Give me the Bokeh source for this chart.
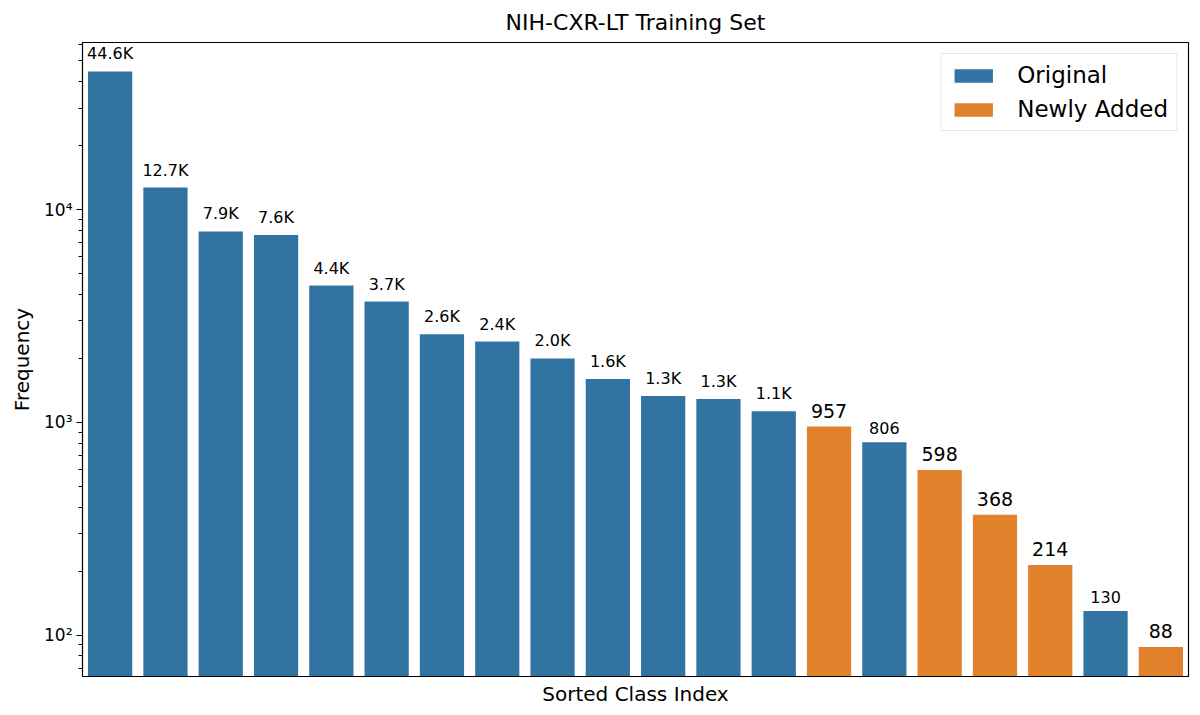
from bokeh.plotting import figure
from bokeh.models import ColumnDataSource, LogTicker, FixedTicker, Legend, LegendItem, CustomJSTickFormatter
from bokeh.core.properties import value
from bokeh.embed import file_html
from bokeh.resources import INLINE

# Frequência por classe (ordenada), escala log
labels = ["44.6K", "12.7K", "7.9K", "7.6K", "4.4K", "3.7K", "2.6K", "2.4K", "2.0K", "1.6K",
          "1.3K", "1.3K", "1.1K", "957", "806", "598", "368", "214", "130", "88"]
counts = [44600, 12700, 7900, 7600, 4400, 3700, 2600, 2400, 2000, 1600,
          1330, 1290, 1130, 957, 806, 598, 368, 214, 130, 88]
newly_added = [False] * 13 + [True, False, True, True, True, False, True]

y_ticks = [100, 1000, 10000]
y_tick_labels = ["10²", "10³", "10⁴"]

BLUE = "#3274a1"
ORANGE = "#e1812c"
FONT = "DejaVu Sans"
Y_MIN = 64

orig = dict(x=[], top=[], label=[])
new = dict(x=[], top=[], label=[])
for i, (c, lab, n) in enumerate(zip(counts, labels, newly_added)):
    d = new if n else orig
    d["x"].append(i)
    d["top"].append(c)
    d["label"].append(lab)

src_orig = ColumnDataSource(orig)
src_new = ColumnDataSource(new)

p = figure(frame_width=1106, frame_height=634, y_axis_type="log",
           x_range=(-0.5, len(counts) - 0.5), y_range=(Y_MIN, 61000),
           output_backend="svg", toolbar_location=None,
           title="NIH-CXR-LT Training Set")

r1 = p.vbar(x="x", top="top", bottom=Y_MIN, width=0.8, source=src_orig,
            fill_color=BLUE, line_color=None)
r2 = p.vbar(x="x", top="top", bottom=Y_MIN, width=0.8, source=src_new,
            fill_color=ORANGE, line_color=None)

p.text(x="x", y="top", text="label", source=src_orig, text_align="center",
       text_baseline="bottom", y_offset=-8, text_font=value(FONT),
       text_font_size="16px", text_color="black")
p.text(x="x", y="top", text="label", source=src_new, text_align="center",
       text_baseline="bottom", y_offset=-9, text_font=value(FONT),
       text_font_size="19px", text_color="black")

# título e eixos
p.title.align = "center"
p.title.text_font = FONT
p.title.text_font_size = "22px"
p.title.text_font_style = "normal"
p.title.text_color = "black"
p.title.offset = 0
p.title.standoff = 15

p.xgrid.visible = False
p.ygrid.visible = False
p.outline_line_color = "black"
p.outline_line_alpha = 1
p.outline_line_width = 1.2

p.xaxis.axis_label = "Sorted Class Index"
p.xaxis.ticker = FixedTicker(ticks=[])
p.xaxis.axis_label_standoff = 5

p.yaxis.axis_label = "Frequency"
p.yaxis.ticker = LogTicker(desired_num_ticks=3, num_minor_ticks=10)
p.yaxis.formatter = CustomJSTickFormatter(
    args=dict(tick_vals=y_ticks, tick_names=y_tick_labels),
    code="""
    for (let i = 0; i < tick_vals.length; i++) {
        if (Math.abs(tick - tick_vals[i]) < 1e-6 * tick_vals[i]) return tick_names[i];
    }
    return '';
    """)
p.yaxis.major_tick_in = 0
p.yaxis.major_tick_out = 6
p.yaxis.minor_tick_in = 0
p.yaxis.minor_tick_out = 4
p.yaxis.major_label_standoff = 4
p.yaxis.axis_label_standoff = 7

for ax in (p.xaxis, p.yaxis):
    ax.axis_line_color = "black"
    ax.axis_label_text_font = FONT
    ax.axis_label_text_font_size = "20px"
    ax.axis_label_text_font_style = "normal"
    ax.axis_label_text_color = "black"
    ax.major_label_text_font = FONT
    ax.major_label_text_color = "black"
p.xaxis.major_tick_line_color = None
p.xaxis.minor_tick_line_color = None
p.yaxis.major_tick_line_color = "black"
p.yaxis.minor_tick_line_color = "black"
p.yaxis.major_label_text_font_size = "17px"

legend = Legend(items=[LegendItem(label="Original", renderers=[r1]),
                       LegendItem(label="Newly Added", renderers=[r2])],
                location="top_right")
legend.label_text_font = FONT
legend.label_text_font_size = "23px"
legend.label_text_color = "black"
legend.glyph_width = 48
legend.glyph_height = 17
legend.spacing = 8
legend.padding = 8
legend.margin = 11
legend.border_line_color = "#d0d0d0"
legend.label_standoff = 20
p.add_layout(legend)

p.min_border_left = 82
p.min_border_right = 4
p.min_border_top = 40
p.min_border_bottom = 33

open("out.html", "w").write(file_html(p, INLINE))
